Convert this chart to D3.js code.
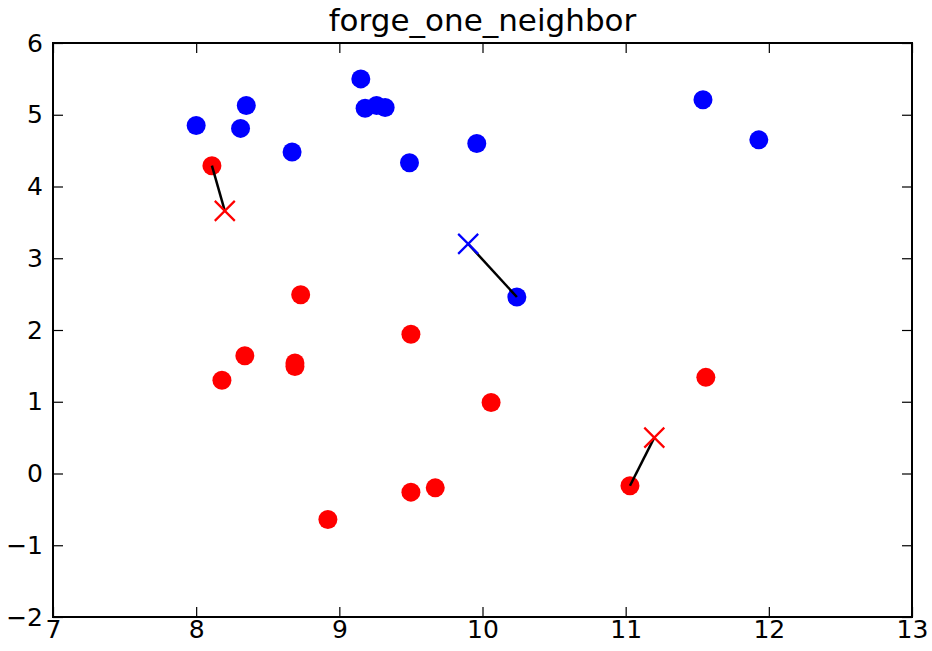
<!DOCTYPE html>
<html>
<head>
<meta charset="utf-8">
<script src="https://cdn.jsdelivr.net/npm/d3@7"></script>
<style>
  body { margin: 0; background: #fff; }
  svg text { font-family: "DejaVu Sans", sans-serif; fill: #000; }
</style>
</head>
<body>
<div id="chart"></div>
<script>
// forge training points, class 1 = blue, class 0 = red
var trainX = [9.96, 11.03, 11.54, 8.69, 8.11, 8.31, 11.93, 9.67, 8.35, 8.67, 9.18, 10.24, 8.69,
              8.92, 9.49, 9.26, 8.00, 8.18, 8.73, 9.32, 10.06, 9.50, 8.34, 9.50, 9.15, 11.56];
var trainY = [4.60, -0.17, 5.21, 1.54, 4.29, 4.81, 4.65, -0.20, 5.13, 4.48, 5.09, 2.46, 1.49,
              -0.64, 4.33, 5.13, 4.85, 1.30, 2.49, 5.10, 0.99, -0.26, 1.64, 1.94, 5.50, 1.34];
var trainClass = [1, 0, 1, 0, 0, 1, 1, 0, 1, 1, 1, 1, 0, 0, 1, 1, 1, 0, 0, 1, 0, 0, 0, 0, 1, 0];

// test points and their predicted class
var testX = [8.2, 9.9, 11.2];
var testY = [3.66, 3.2, 0.5];
var testClass = [0, 1, 0];

var xTicks = [7, 8, 9, 10, 11, 12, 13];
var yTicks = [-2, -1, 0, 1, 2, 3, 4, 5, 6];

var classColors = ["#ff0000", "#0000ff"];

var W = 932, H = 651;
var margin = {top: 43, right: 20, bottom: 34, left: 53},
    width = W - margin.left - margin.right,
    height = H - margin.top - margin.bottom;

var svg = d3.select("#chart").append("svg")
    .attr("width", W)
    .attr("height", H);

var g = svg.append("g")
    .attr("transform", "translate(" + margin.left + "," + margin.top + ")");

var xScale = d3.scaleLinear().domain([7, 13]).range([0, width]);
var yScale = d3.scaleLinear().domain([-2, 6]).range([height, 0]);

// axes with inward ticks
var tickLen = 10;
g.append("g")
    .attr("transform", "translate(0," + height + ")")
    .call(d3.axisBottom(xScale).tickValues(xTicks).tickSize(-tickLen).tickPadding(3)
      .tickFormat(d3.format("d")));
g.append("g")
    .call(d3.axisTop(xScale).tickValues(xTicks).tickSize(-tickLen).tickFormat(""));
g.append("g")
    .call(d3.axisLeft(yScale).tickValues(yTicks).tickSize(-tickLen).tickPadding(10)
      .tickFormat(function(d) { return d < 0 ? "\u2212" + Math.abs(d) : d; }));
g.append("g")
    .attr("transform", "translate(" + width + ",0)")
    .call(d3.axisRight(yScale).tickValues(yTicks).tickSize(-tickLen).tickFormat(""));

g.selectAll(".domain").remove();
g.selectAll(".tick line").attr("stroke", "#000").attr("stroke-width", 1.2);
g.selectAll(".tick text").style("font-size", "25px").attr("fill", "#000");

// lines from each test point to its nearest neighbour
var nn = testX.map(function(tx, i) {
  var best = 0, bestD = Infinity;
  trainX.forEach(function(x, j) {
    var d = (x - tx) * (x - tx) + (trainY[j] - testY[i]) * (trainY[j] - testY[i]);
    if (d < bestD) { bestD = d; best = j; }
  });
  return best;
});

// training points
g.selectAll("circle.train")
  .data(trainX)
  .enter().append("circle")
    .attr("class", "train")
    .attr("cx", function(d) { return xScale(d); })
    .attr("cy", function(d, i) { return yScale(trainY[i]); })
    .attr("r", 9.5)
    .style("fill", function(d, i) { return classColors[trainClass[i]]; });

g.selectAll("line.nn")
  .data(testX)
  .enter().append("line")
    .attr("class", "nn")
    .attr("x1", function(d) { return xScale(d); })
    .attr("y1", function(d, i) { return yScale(testY[i]); })
    .attr("x2", function(d, i) { return xScale(trainX[nn[i]]); })
    .attr("y2", function(d, i) { return yScale(trainY[nn[i]]); })
    .attr("stroke", "#000")
    .attr("stroke-width", 2.5);

// test points as crosses
var s = 10;
var cross = g.selectAll("g.test")
  .data(testX)
  .enter().append("g")
    .attr("class", "test")
    .attr("transform", function(d, i) { return "translate(" + xScale(d) + "," + yScale(testY[i]) + ")"; });
cross.append("path")
    .attr("d", "M" + (-s) + "," + (-s) + "L" + s + "," + s + "M" + (-s) + "," + s + "L" + s + "," + (-s))
    .attr("stroke", function(d, i) { return classColors[testClass[i]]; })
    .attr("stroke-width", 2.2)
    .attr("fill", "none");

// frame
g.append("rect")
    .attr("width", width)
    .attr("height", height)
    .attr("fill", "none")
    .attr("stroke", "#000")
    .attr("stroke-width", 2);

svg.append("text")
    .attr("x", margin.left + width / 2)
    .attr("y", margin.top - 12)
    .attr("text-anchor", "middle")
    .style("font-size", "31px")
    .text("forge_one_neighbor");
</script>
</body>
</html>
